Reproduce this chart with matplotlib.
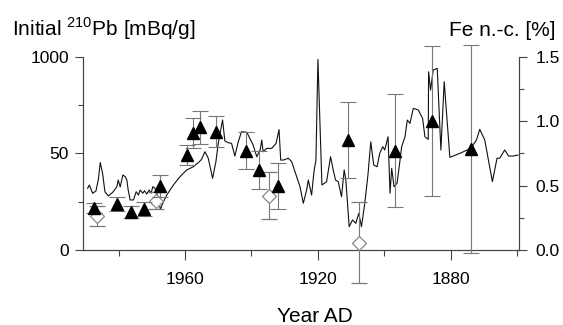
import matplotlib
matplotlib.use('Agg')
import matplotlib.pyplot as plt
from matplotlib.ticker import FixedLocator, FormatStrFormatter

plt.rcParams['font.family'] = ['Liberation Sans', 'DejaVu Sans']
plt.rcParams['mathtext.fontset'] = 'custom'
plt.rcParams['mathtext.rm'] = 'Liberation Sans'

# Fe n.-c. record (right axis, %)
fe_year = [1989.3, 1988.8, 1987.8, 1986.8, 1986.1, 1985.5, 1984.8, 1984.1, 1983.1, 1982.0,
           1981.6, 1980.5, 1980.1, 1979.5, 1978.7, 1978.0, 1977.5, 1977.1, 1976.5, 1975.5,
           1974.7, 1974.0, 1973.5, 1972.7, 1972.2, 1971.5, 1970.8, 1970.2, 1969.7, 1969.0,
           1968.3, 1967.4, 1966.7, 1965.5, 1963.5, 1961.5, 1959.5, 1957.5, 1955.7, 1955.0,
           1954.0, 1953.0, 1951.7, 1950.7, 1950.0, 1948.7, 1948.0, 1947.0, 1946.0, 1945.0,
           1944.0, 1943.0, 1941.4, 1940.5, 1939.5, 1938.4, 1937.4, 1936.9, 1936.5, 1935.4,
           1933.9, 1932.6, 1931.7, 1931.2, 1930.4, 1928.9, 1927.9, 1926.9, 1925.4, 1924.4,
           1923.4, 1922.9, 1921.9, 1921.2, 1920.6, 1920.0, 1918.8, 1917.4, 1916.2, 1915.4,
           1914.7, 1913.9, 1912.9, 1912.1, 1911.6, 1910.6, 1909.6, 1908.6, 1907.7, 1906.9,
           1905.9, 1904.9, 1904.1, 1903.2, 1902.2, 1901.4, 1900.5, 1899.9, 1898.9, 1898.3,
           1897.8, 1897.1, 1896.2, 1895.6, 1894.8, 1893.8, 1893.1, 1892.3, 1891.3, 1889.8,
           1888.5, 1887.8, 1886.8, 1886.7, 1886.1, 1885.3, 1884.1, 1883.0, 1882.0, 1880.3,
           1877.3, 1874.0, 1872.3, 1871.3, 1869.8, 1867.5, 1866.1, 1865.3, 1863.8, 1862.6,
           1861.3, 1859.8]
fe_val = [0.479, 0.505, 0.441, 0.458, 0.544, 0.680, 0.596, 0.453, 0.420, 0.443,
          0.453, 0.492, 0.544, 0.490, 0.583, 0.570, 0.544, 0.466, 0.389, 0.389,
          0.453, 0.427, 0.466, 0.441, 0.461, 0.435, 0.466, 0.441, 0.492, 0.479,
          0.427, 0.315, 0.363, 0.427, 0.505, 0.570, 0.622, 0.647, 0.686, 0.705,
          0.764, 0.713, 0.557, 0.686, 0.829, 1.010, 0.847, 0.834, 0.829, 0.730,
          0.839, 0.919, 0.915, 0.868, 0.816, 0.725, 0.777, 0.855, 0.764, 0.790,
          0.790, 0.829, 0.936, 0.699, 0.699, 0.713, 0.686, 0.608, 0.492, 0.363,
          0.466, 0.544, 0.427, 0.608, 0.699, 1.482, 0.505, 0.531, 0.725, 0.622,
          0.544, 0.531, 0.414, 0.622, 0.544, 0.181, 0.233, 0.207, 0.285, 0.181,
          0.363, 0.596, 0.841, 0.660, 0.647, 0.751, 0.803, 0.777, 0.880, 0.441,
          0.635, 0.492, 0.518, 0.635, 0.803, 0.880, 1.010, 0.984, 1.101, 1.088,
          1.023, 0.880, 0.860, 1.385, 1.243, 1.399, 1.412, 0.777, 1.308, 0.720,
          0.751, 0.790, 0.855, 0.938, 0.855, 0.531, 0.713, 0.713, 0.777, 0.730,
          0.730, 0.738]

# initial 210Pb, filled triangles
pb_year = [1987.3, 1980.4, 1976.2, 1972.3, 1967.4, 1959.5, 1957.7, 1955.5,
           1950.7, 1941.7, 1937.7, 1931.9, 1910.9, 1896.8, 1885.8, 1874.0]
pb_val = [21.6, 23.7, 19.8, 21.4, 33.3, 49.2, 60.5, 63.6,
          61.3, 51.5, 41.5, 33.2, 57.0, 51.5, 67.0, 52.2]
pb_err = [2.6, 3.5, 3.1, 3.6, 5.6, 5.4, 7.7, 8.6,
          8.1, 9.7, 9.7, 11.8, 19.7, 29.2, 38.9, 54.0]

# initial 210Pb, open diamonds
pb2_year = [1986.5, 1968.6, 1934.7, 1907.7]
pb2_val = [17.6, 25.6, 28.2, 3.8]
pb2_err = [5.4, 4.5, 12.1, 21.0]

left_ticks = [0, 50, 100]
left_ticklabels = ['0', '50', '1000']
right_ticks = [0.0, 0.5, 1.0, 1.5]
year_ticks = [1960, 1920, 1880]
year_minor = [1980, 1940, 1900, 1860]

fig = plt.figure(figsize=(5.63, 3.25), dpi=100)
ax = fig.add_axes([0.1474, 0.2308, 0.7744, 0.5938])
ax2 = ax.twinx()

ax2.plot(fe_year, fe_val, color='#111111', lw=0.8, zorder=2)

ax.errorbar(pb2_year, pb2_val, yerr=pb2_err, fmt='D', ms=7, mfc='white', mec='#888888',
            mew=0.9, ecolor='#777777', elinewidth=0.8, capsize=5.5, capthick=0.8,
            clip_on=False, zorder=3)
ax.errorbar(pb_year, pb_val, yerr=pb_err, fmt='^', ms=9, color='black',
            ecolor='#777777', elinewidth=0.8, capsize=5.5, capthick=0.8,
            clip_on=False, zorder=4)

ax.set_zorder(ax2.get_zorder() + 1)
ax.patch.set_visible(False)

ax.set_xlim(1990.7, 1859.5)
ax.set_ylim(0, 100)
ax2.set_ylim(0, 1.5)

for a in (ax, ax2):
    a.spines['top'].set_visible(False)
    for s in a.spines.values():
        s.set_color('#444444')
        s.set_linewidth(0.8)

ax.set_xticks(year_ticks)
ax.xaxis.set_minor_locator(FixedLocator(year_minor))
ax.set_yticks(left_ticks)
ax.set_yticklabels(left_ticklabels)
ax.yaxis.set_minor_locator(FixedLocator([25, 75]))
ax2.set_yticks(right_ticks)
ax2.yaxis.set_major_formatter(FormatStrFormatter('%.1f'))
ax2.yaxis.set_minor_locator(FixedLocator([0.25, 0.75, 1.25]))

ax.tick_params(axis='x', which='major', length=7, width=0.8, color='#444444', pad=9, labelsize=12.5)
ax.tick_params(axis='x', which='minor', length=4, width=0.8, color='#444444')
ax.tick_params(axis='y', which='major', length=6, width=0.8, color='#444444', pad=4, labelsize=12.5)
ax.tick_params(axis='y', which='minor', length=3.5, width=0.8, color='#444444')
ax2.tick_params(axis='y', which='major', length=6, width=0.8, color='#444444', pad=6, labelsize=12.5)
ax2.tick_params(axis='y', which='minor', length=3.5, width=0.8, color='#444444')

# axis titles placed as in the original figure
fig.text(0.5586, 0.008, 'Year AD', fontsize=15, ha='center', va='baseline')
fig.text(0.021, 0.913, 'Initial $^{210}$Pb [mBq/g]', fontsize=15, ha='left', va='center')
fig.text(0.986, 0.905, 'Fe n.-c. [%]', fontsize=15, ha='right', va='center')

fig.savefig('out.png', dpi=100)
